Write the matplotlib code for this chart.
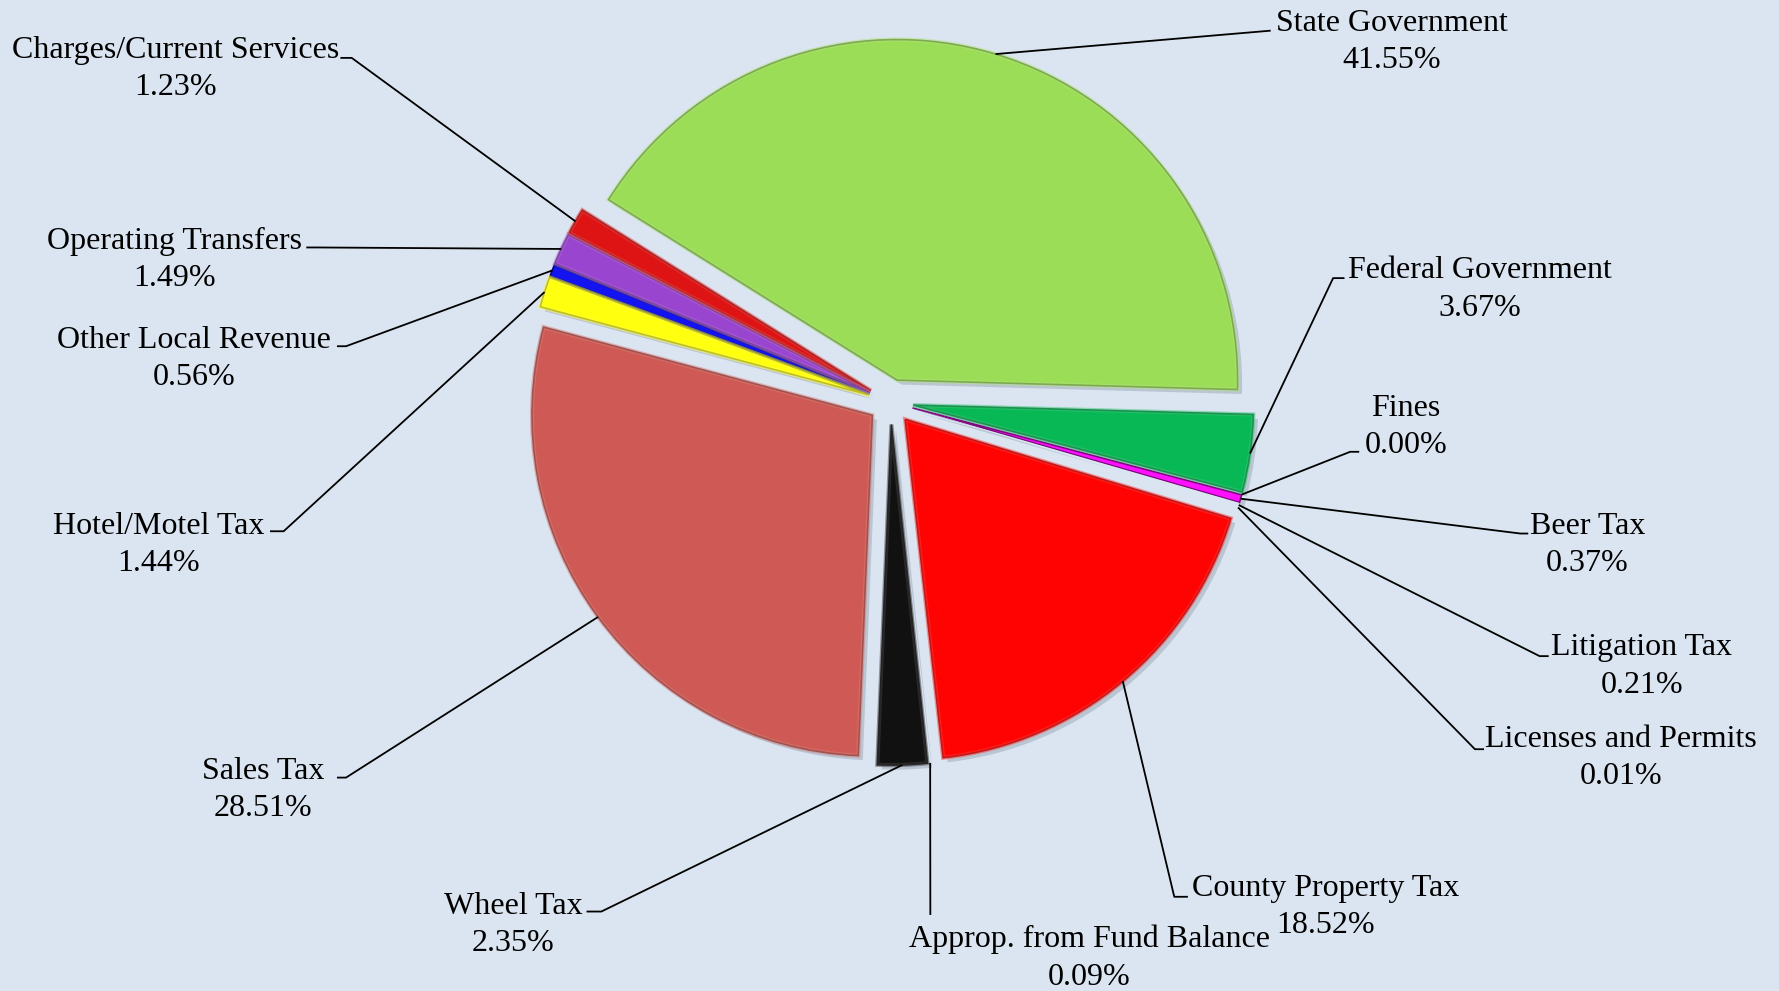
import numpy as np
import matplotlib
matplotlib.use("Agg")
import matplotlib.pyplot as plt
from matplotlib.colors import to_rgb

# ---- data ----
categories = ["State Government", "Federal Government", "Fines", "Beer Tax",
              "Litigation Tax", "Licenses and Permits", "County Property Tax",
              "Approp. from Fund Balance", "Wheel Tax", "Sales Tax",
              "Hotel/Motel Tax", "Other Local Revenue", "Operating Transfers",
              "Charges/Current Services"]
shares = [41.55, 3.67, 0.00, 0.37, 0.21, 0.01, 18.52, 0.09, 2.35, 28.51,
          1.44, 0.56, 1.49, 1.23]
pct_labels = ["41.55%", "3.67%", "0.00%", "0.37%", "0.21%", "0.01%", "18.52%",
              "0.09%", "2.35%", "28.51%", "1.44%", "0.56%", "1.49%", "1.23%"]
colors = ["#9BDD57", "#07B855", "#DBE5F1", "#FF10FF", "#DBE5F1", "#DBE5F1",
          "#FF0303", "#DBE5F1", "#111111", "#CF5A55", "#FFFF10", "#1414F0",
          "#9A45CF", "#DE1414"]

BG = "#DBE5F1"
W, H = 1568, 873  # working coordinate system (image pixels, y down)

fig = plt.figure(figsize=(17.79, 9.91), dpi=100, facecolor=BG)
ax = fig.add_axes([0, 0, 1, 1])
ax.set_facecolor(BG)

def Y(y):
    return H - y

cx, cy, R = 785, Y(354), 300
explode = [20] * len(shares)   # offset in data units

# shadow
sh = ax.pie(shares, explode=explode, startangle=148, counterclock=False,
            radius=R, center=(cx + 4, cy - 4), colors=["#7f8a99"] * len(shares),
            wedgeprops=dict(linewidth=0, alpha=0.35), frame=True)
for w, c in zip(sh[0], colors):
    if c == BG:
        w.set_visible(False)

wedges, _ = ax.pie(shares, explode=explode, startangle=148, counterclock=False,
                   radius=R, center=(cx, cy), colors=colors,
                   wedgeprops=dict(linewidth=1.2), frame=True)
for w, c, v in zip(wedges, colors, shares):
    rgb = np.array(to_rgb(c))
    if c == BG:
        w.set_edgecolor(BG)
        w.set_linewidth(0)
    else:
        w.set_edgecolor(tuple(rgb * 0.5))

# inner highlight to mimic bevel
hl = ax.pie(shares, explode=explode, startangle=148, counterclock=False,
            radius=R, center=(cx, cy), colors=["none"] * len(shares),
            wedgeprops=dict(linewidth=0), frame=True)
for w, c, v in zip(hl[0], colors, shares):
    if c == BG or v < 1:
        w.set_visible(False)
        continue
    rgb = np.array(to_rgb(c))
    light = tuple(np.clip(rgb + (1 - rgb) * 0.2, 0, 1))
    w.set_edgecolor(light + (0.5,))
    w.set_linewidth(3)
    w.set_facecolor("none")
    w.set_zorder(w.get_zorder() + 0.1)

# label layout (centers of label blocks and leader path, image coords)
label_pos = {
    "State Government": (1227, 37),
    "Federal Government": (1304, 255),
    "Fines": (1239, 376),
    "Beer Tax": (1399, 480),
    "Litigation Tax": (1447, 587),
    "Licenses and Permits": (1429, 668),
    "County Property Tax": (1168, 799),
    "Approp. from Fund Balance": (960, 844),
    "Wheel Tax": (452, 815),
    "Sales Tax": (232, 696),
    "Hotel/Motel Tax": (140, 480),
    "Other Local Revenue": (171, 316),
    "Operating Transfers": (154, 229),
    "Charges/Current Services": (155, 61),
}
leader = {
    "State Government": [(1120, 27)],
    "Federal Government": [(1175, 245), (1185, 245)],
    "Fines": [(1190, 398), (1198, 398)],
    "Beer Tax": [(1340, 470), (1347, 470)],
    "Litigation Tax": [(1357, 578), (1365, 578)],
    "Licenses and Permits": [(1300, 660), (1308, 660)],
    "County Property Tax": [(1035, 790), (1047, 790)],
    "Approp. from Fund Balance": [(820, 806)],
    "Wheel Tax": [(530, 803), (517, 803)],
    "Sales Tax": [(305, 685), (297, 685)],
    "Hotel/Motel Tax": [(250, 468), (238, 468)],
    "Other Local Revenue": [(305, 305), (297, 305)],
    "Operating Transfers": [(280, 218), (270, 218)],
    "Charges/Current Services": [(310, 51), (300, 51)],
}

font = dict(family=["Liberation Serif", "DejaVu Serif"], fontsize=23, color="black")
for w, name, pct in zip(wedges, categories, pct_labels):
    mid = np.deg2rad((w.theta1 + w.theta2) / 2)
    ax0, ay0 = w.center[0] + w.r * np.cos(mid), w.center[1] + w.r * np.sin(mid)
    xs = [ax0] + [p[0] for p in leader[name]]
    ys = [ay0] + [Y(p[1]) for p in leader[name]]
    ax.plot(xs, ys, color="black", lw=1.3, zorder=5, solid_capstyle="butt")
    lx, ly = label_pos[name]
    ax.text(lx, Y(ly), f"{name}\n{pct}", ha="center", va="center",
            multialignment="center", linespacing=1.38, zorder=6, **font)

ax.set_xlim(0, W)
ax.set_ylim(0, H)
ax.set_aspect("equal", adjustable="datalim")
ax.axis("off")
fig.savefig("out.png", dpi=100, facecolor=BG)
